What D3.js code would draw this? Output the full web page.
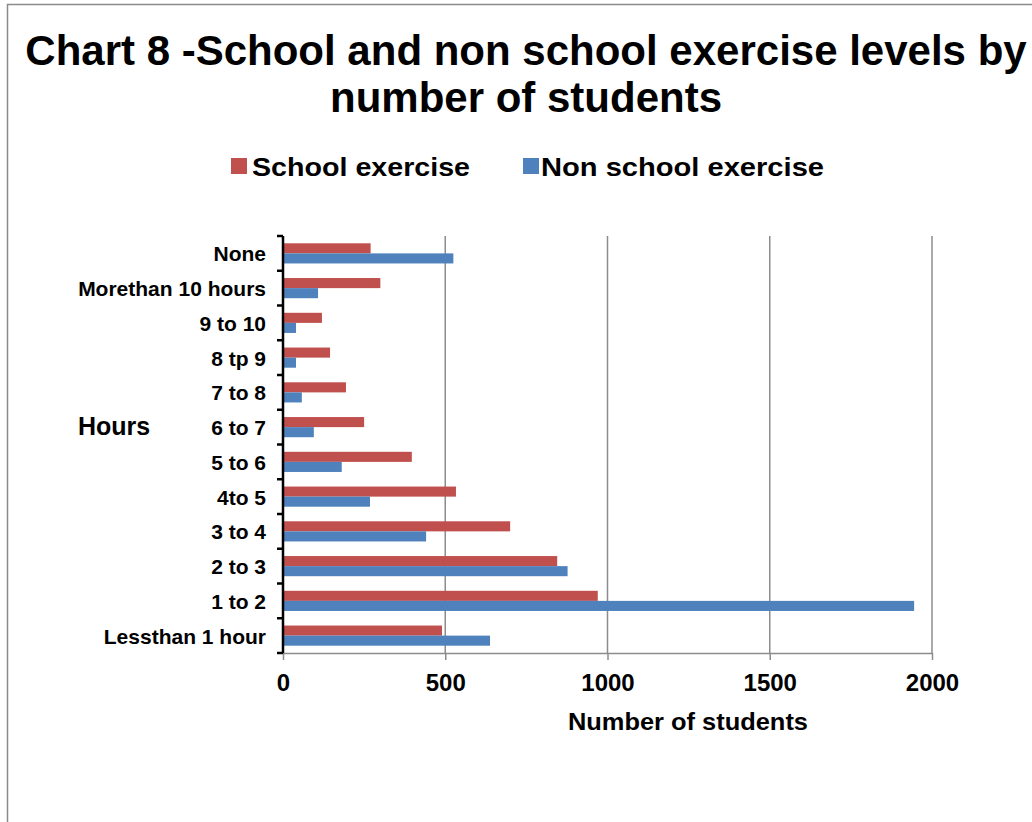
<!DOCTYPE html>
<html>
<head>
<meta charset="utf-8">
<script src="https://cdn.jsdelivr.net/npm/d3@7"></script>
<style>
  html, body { margin: 0; padding: 0; background: #fff; }
  svg { display: block; }
  text { font-family: "Liberation Sans", Arial, sans-serif; font-weight: bold; fill: #000; }
</style>
</head>
<body>
<svg id="chart" width="1032" height="822"></svg>
<script>
// ---- Data ----
const categories = ["Lessthan 1 hour", "1 to 2", "2 to 3", "3 to 4", "4to 5", "5 to 6",
                    "6 to 7", "7 to 8", "8 tp 9", "9 to 10", "Morethan 10 hours", "None"];
const schoolExercise    = [490, 970, 845, 700, 533, 397, 250, 194, 145, 120, 300, 270];
const nonSchoolExercise = [638, 1945, 877, 441, 268, 181, 95, 58, 40, 40, 108, 525];
const seriesNames = ["School exercise", "Non school exercise"];
const xTicks = [0, 500, 1000, 1500, 2000];
const titleLines = ["Chart 8 -School and non school exercise levels by", "number of students"];
const xAxisTitle = "Number of students";
const yAxisTitle = "Hours";

const colors = ["#C0504D", "#4F81BD"];

const svg = d3.select("#chart");

// outer frame
svg.append("rect").attr("x", 7.5).attr("y", 4.5).attr("width", 1100).attr("height", 900)
  .attr("fill", "#fff").attr("stroke", "#8a8a8a").attr("stroke-width", 1.5);

// plot area
const plot = { left: 283, right: 932, top: 236, bottom: 653 };

const x = d3.scaleLinear().domain([0, 2000]).range([plot.left, plot.right]);
const y = d3.scaleBand().domain(categories.slice().reverse())
  .range([plot.top, plot.bottom]).paddingInner(0.42).paddingOuter(0.21);
const inner = d3.scaleBand().domain(seriesNames).range([0, y.bandwidth()]);

// gridlines
svg.append("g").selectAll("line").data(xTicks.filter(t => t > 0)).join("line")
  .attr("x1", d => x(d)).attr("x2", d => x(d))
  .attr("y1", plot.top).attr("y2", plot.bottom)
  .attr("stroke", "#8c8c8c").attr("stroke-width", 1.5);

// bars
const data = categories.map((c, i) => ({ cat: c, vals: [schoolExercise[i], nonSchoolExercise[i]] }));
const groups = svg.append("g").selectAll("g").data(data).join("g")
  .attr("transform", d => `translate(0,${y(d.cat)})`);
groups.selectAll("rect").data(d => d.vals.map((v, j) => ({ v, s: seriesNames[j], j })))
  .join("rect")
  .attr("x", x(0))
  .attr("y", d => inner(d.s))
  .attr("width", d => x(d.v) - x(0))
  .attr("height", inner.bandwidth())
  .attr("fill", d => colors[d.j]);

// x axis
const xAxis = svg.append("g").attr("transform", `translate(0,${plot.bottom})`)
  .call(d3.axisBottom(x).tickValues(xTicks).tickFormat(d3.format("d"))
    .tickSize(7).tickSizeOuter(0).tickPadding(16));
xAxis.select(".domain").attr("stroke", "#8c8c8c").attr("stroke-width", 1.5);
xAxis.selectAll(".tick line").attr("stroke", "#8c8c8c").attr("stroke-width", 1.5);
xAxis.selectAll(".tick text").attr("font-size", 24).attr("font-family", "Liberation Sans, Arial, sans-serif")
  .attr("font-weight", "bold").attr("fill", "#000").attr("dy", "0.62em");

// y axis (labels)
const yAxis = svg.append("g").attr("transform", `translate(${plot.left},0)`)
  .call(d3.axisLeft(y).tickSize(0).tickPadding(17));
yAxis.select(".domain").remove();
yAxis.selectAll(".tick text").attr("font-size", 21).attr("font-family", "Liberation Sans, Arial, sans-serif")
  .attr("font-weight", "bold").attr("fill", "#000").attr("dy", "0.38em");

// y axis line + boundary ticks
const boundaries = d3.range(categories.length + 1).map(i => plot.top + i * y.step());
svg.append("line").attr("x1", plot.left).attr("x2", plot.left)
  .attr("y1", plot.top).attr("y2", plot.bottom).attr("stroke", "#000").attr("stroke-width", 2.5);
svg.append("g").selectAll("line").data(boundaries).join("line")
  .attr("x1", plot.left - 6).attr("x2", plot.left)
  .attr("y1", d => d).attr("y2", d => d)
  .attr("stroke", "#000").attr("stroke-width", 2.5);

// axis titles
svg.append("text").attr("x", 688).attr("y", 730).attr("text-anchor", "middle")
  .attr("font-size", 24).attr("textLength", 240).attr("lengthAdjust", "spacingAndGlyphs").text(xAxisTitle);
svg.append("text").attr("x", 78).attr("y", 435)
  .attr("font-size", 25).text(yAxisTitle);

// title
svg.append("g").selectAll("text").data(titleLines).join("text")
  .attr("x", 526).attr("y", (d, i) => 65 + i * 47).attr("text-anchor", "middle")
  .attr("font-size", 42).text(d => d);

// legend
const legendX = [231, 523];
const legendTextX = [252, 541];
const legendW = [218, 283];
const lg = svg.append("g").selectAll("g").data(seriesNames).join("g");
lg.append("rect").attr("x", (d, i) => legendX[i]).attr("y", 158).attr("width", 16).attr("height", 16)
  .attr("fill", (d, i) => colors[i]);
lg.append("text").attr("x", (d, i) => legendTextX[i]).attr("y", 176)
  .attr("font-size", 25).attr("textLength", (d, i) => legendW[i]).attr("lengthAdjust", "spacingAndGlyphs")
  .text(d => d);
</script>
</body>
</html>
